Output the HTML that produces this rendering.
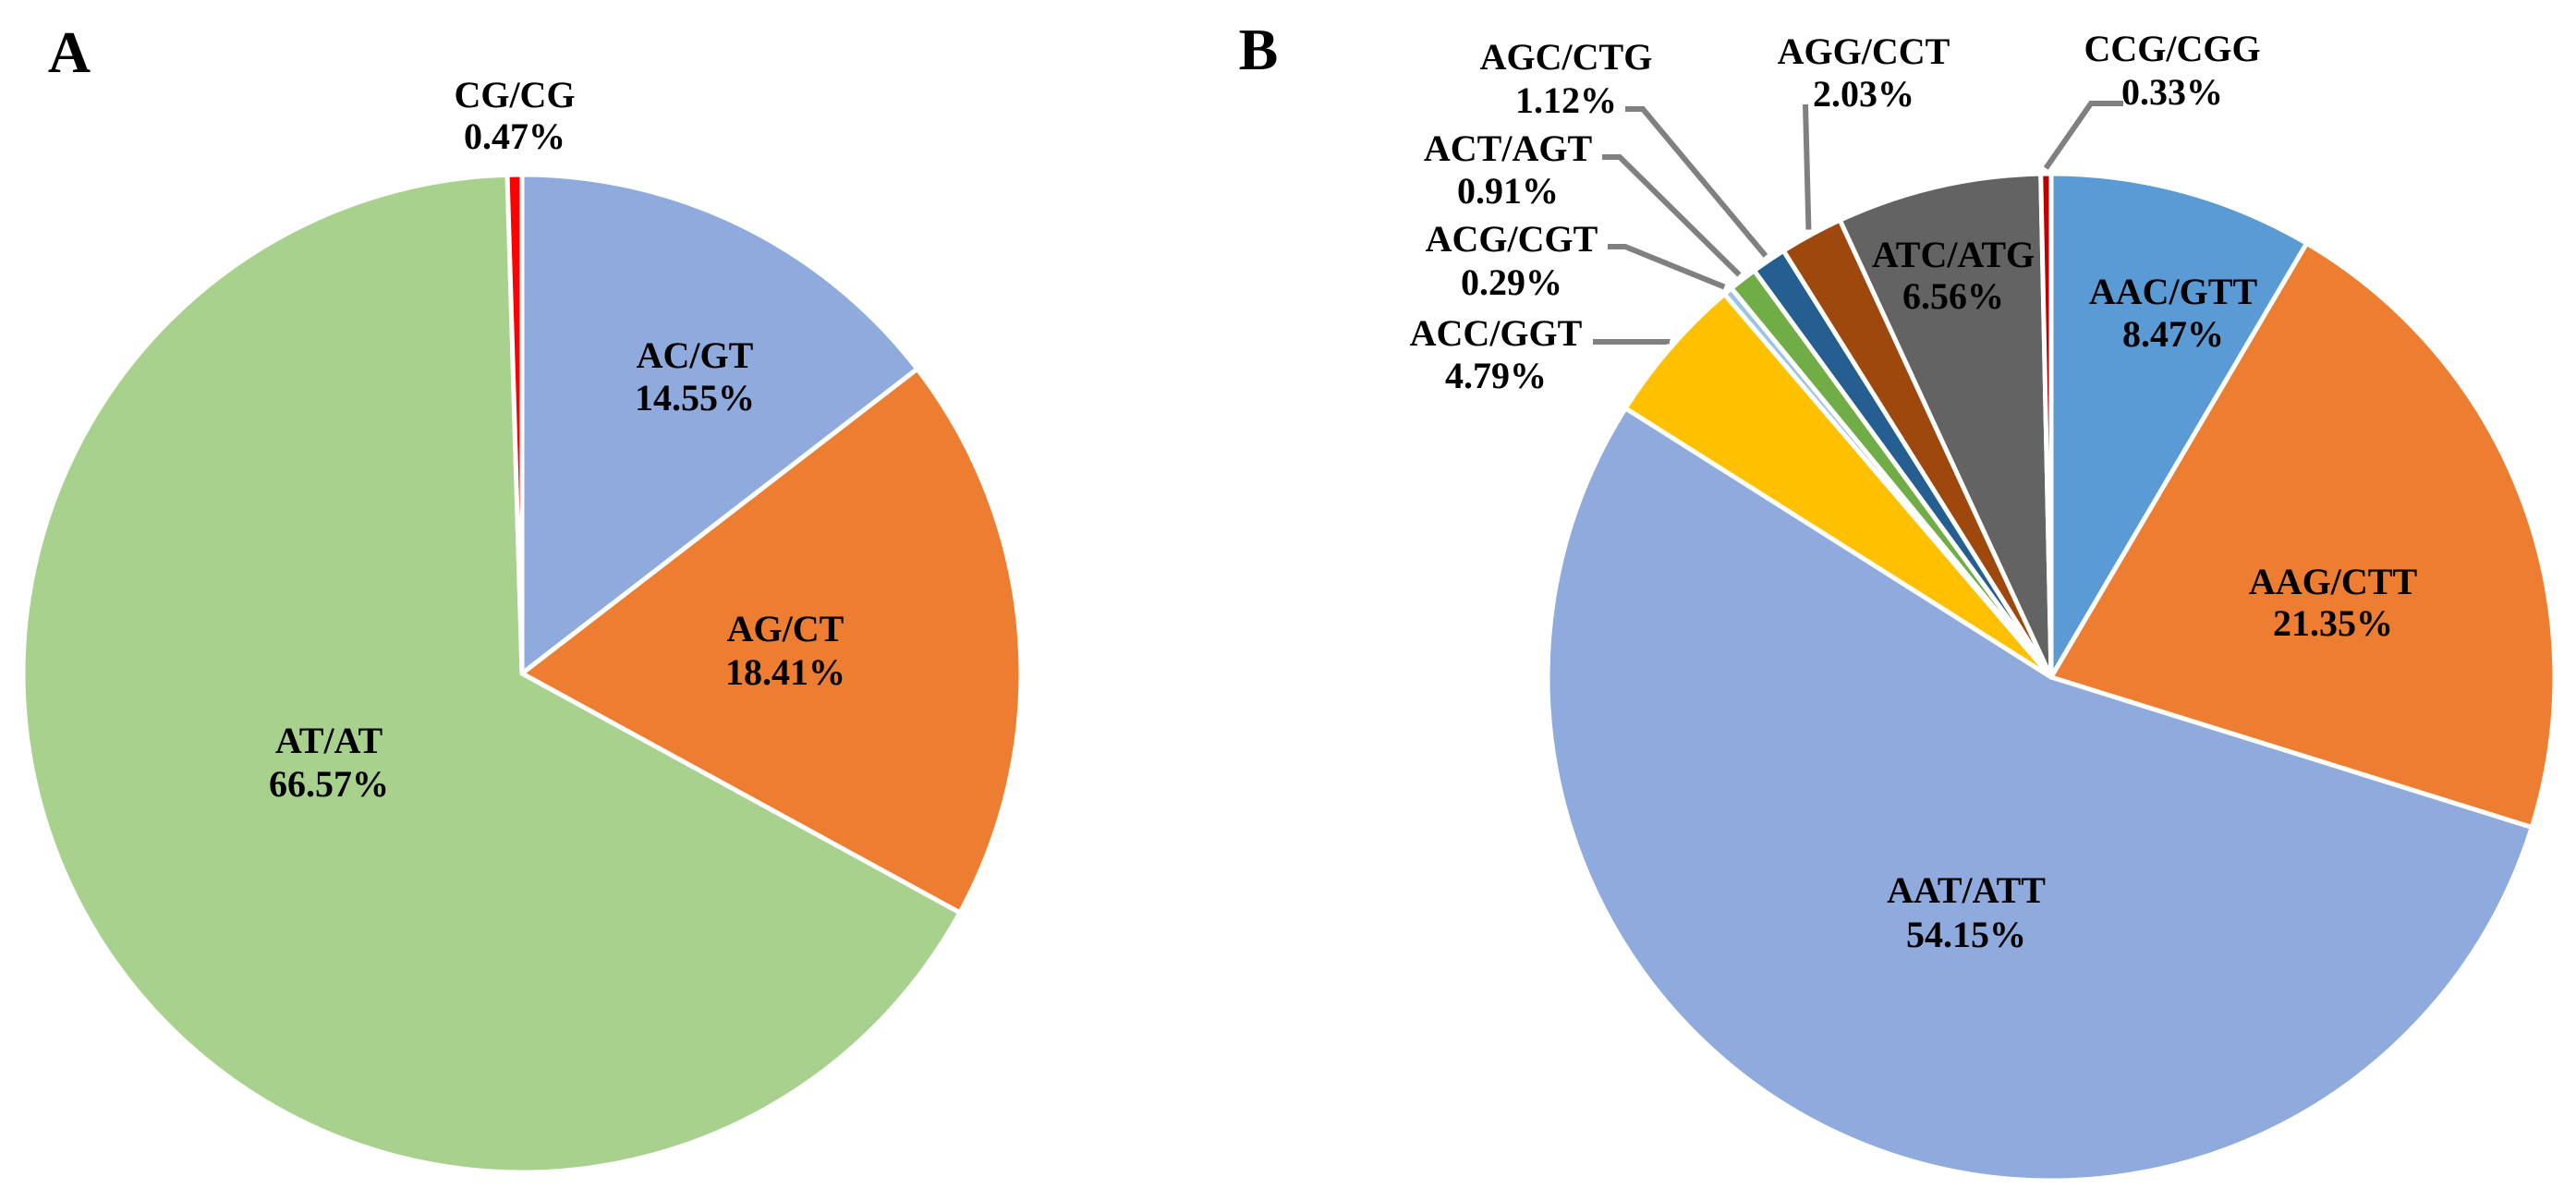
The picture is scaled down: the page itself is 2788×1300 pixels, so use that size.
<!DOCTYPE html>
<html><head><meta charset="utf-8"><style>
html,body{margin:0;padding:0;background:#fff;}
svg{display:block;}
text{font-family:"Liberation Serif",serif;font-weight:bold;fill:#000;}
</style></head><body>
<svg id="chart" width="2788" height="1300" viewBox="0 0 2788 1300" xmlns="http://www.w3.org/2000/svg">
<text x="75" y="78" font-size="64" text-anchor="middle">A</text>
<text x="1362" y="75" font-size="64" text-anchor="middle">B</text>
<g id="pieA"></g>
<g id="pieB"></g>
<g id="labels"></g>
</svg>
<script>
const catsA = ["AC/GT","AG/CT","AT/AT","CG/CG"];
const valsA = [14.55,18.41,66.57,0.47];
const colorsA = ["#8FAADC","#ED7D31","#A9D18E","#FF0000"];
const catsB = ["AAC/GTT","AAG/CTT","AAT/ATT","ACC/GGT","ACG/CGT","ACT/AGT","AGC/CTG","AGG/CCT","ATC/ATG","CCG/CGG"];
const valsB = [8.47,21.35,54.15,4.79,0.29,0.91,1.12,2.03,6.56,0.33];
const colorsB = ["#5B9BD5","#ED7D31","#8FAADC","#FFC000","#9DC3E6","#70AD47","#255E91","#9E480E","#636363","#C00000"];

const layoutA = [[752,398,444],[850,694,741],[356,815,862],[557,116,161]];
const layoutB = [
 [2352,329,375,null],[2525,643,688,null],[2128,977,1025,null],
 [1619,374,420,[1724,370,1804,370]],
 [1636,272,319,[1740,267,1759,267]],
 [1632,174,220,[1734,170,1753,170]],
 [1695,75,122,[1759,118,1778,118]],
 [2017,69,115,[1954,113,1954,113]],
 [2114,289,334,null],
 [2351,66,113,[2298,112,2263,112]]
];
const NS="http://www.w3.org/2000/svg";
function angleOf(frac){return frac*2*Math.PI;}
function pt(cx,cy,r,a){return [cx+r*Math.sin(a), cy-r*Math.cos(a)];}
function drawPie(g,cats,vals,colors,cx,cy,r,prefix){
  const total=vals.reduce((s,v)=>s+v,0);
  let acc=0; const mids=[];
  vals.forEach((v,i)=>{
    const a0=angleOf(acc/total), a1=angleOf((acc+v)/total); acc+=v;
    const p0=pt(cx,cy,r,a0), p1=pt(cx,cy,r,a1);
    const large=(a1-a0)>Math.PI?1:0;
    const p=document.createElementNS(NS,"path");
    p.setAttribute("d",`M${cx},${cy}L${p0[0]},${p0[1]}A${r},${r} 0 ${large} 1 ${p1[0]},${p1[1]}Z`);
    p.setAttribute("fill",colors[i]);
    p.setAttribute("stroke","#fff");
    p.setAttribute("stroke-width","5");
    p.setAttribute("stroke-linejoin","round");
    
    
    g.appendChild(p);
    mids.push((a0+a1)/2);
  });
  return mids;
}
function addText(g,x,y,s,name){
  const t=document.createElementNS(NS,"text");
  t.setAttribute("x",x);t.setAttribute("y",y);
  t.setAttribute("font-size","40");t.setAttribute("text-anchor","middle");
  t.textContent=s;
  
  
  g.appendChild(t);
}
const gl=document.getElementById("labels");
const cxA=565,cyA=729,rA=540, cxB=2220,cyB=733,rB=545;
drawPie(document.getElementById("pieA"),catsA,valsA,colorsA,cxA,cyA,rA,"a");
const midsB=drawPie(document.getElementById("pieB"),catsB,valsB,colorsB,cxB,cyB,rB,"b");
catsA.forEach((c,i)=>{
  const L=layoutA[i];
  addText(gl,L[0],L[1],c,"label-a-"+c.toLowerCase().replace('/','-'));
  addText(gl,L[0],L[2],valsA[i].toFixed(2)+"%","value-a-"+c.toLowerCase().replace('/','-'));
});
catsB.forEach((c,i)=>{
  const L=layoutB[i];
  const key=c.toLowerCase().replace('/','-');
  if(L[3]){
    const e=pt(cxB,cyB,rB+6,midsB[i]);
    const pl=document.createElementNS(NS,"polyline");
    pl.setAttribute("points",`${L[3][0]},${L[3][1]} ${L[3][2]},${L[3][3]} ${e[0]},${e[1]}`);
    pl.setAttribute("fill","none");pl.setAttribute("stroke","#808080");pl.setAttribute("stroke-width","6");
    
    
    gl.appendChild(pl);
  }
  addText(gl,L[0],L[1],c,"label-b-"+key);
  addText(gl,L[0],L[2],valsB[i].toFixed(2)+"%","value-b-"+key);
});
</script>
</body></html>
